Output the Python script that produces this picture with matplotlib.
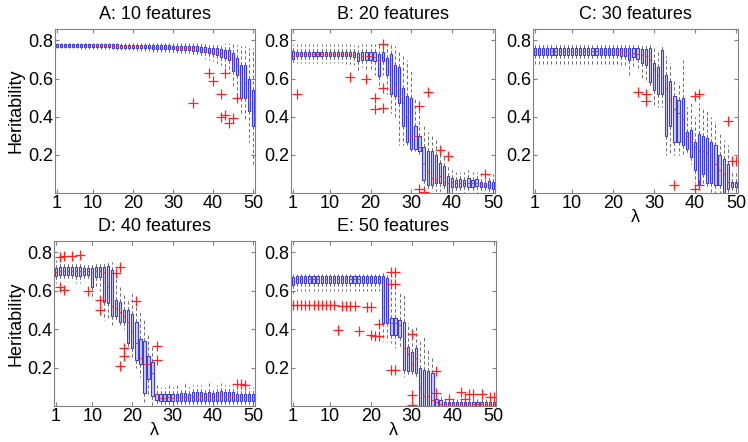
import matplotlib
matplotlib.use('Agg')
import matplotlib.pyplot as plt

plt.rcParams['font.family'] = ['Liberation Sans', 'DejaVu Sans']
plt.rcParams['font.size'] = 13

lambdas = list(range(1, 51))
xtick_vals = [1, 10, 20, 30, 40, 50]
ytick_vals = [0.2, 0.4, 0.6, 0.8]
titles = ['A: 10 features', 'B: 20 features', 'C: 30 features',
          'D: 40 features', 'E: 50 features']

# ---- A: 10 features ----
a_med = [0.776, 0.776, 0.775, 0.775, 0.775, 0.775, 0.774, 0.774, 0.774, 0.773,
         0.773, 0.773, 0.772, 0.772, 0.772, 0.771, 0.771, 0.770, 0.770, 0.770,
         0.769, 0.769, 0.768, 0.768, 0.767, 0.767, 0.766, 0.766, 0.765, 0.764,
         0.763, 0.762, 0.761, 0.760, 0.759, 0.757, 0.754, 0.750, 0.746, 0.742,
         0.738, 0.733, 0.727, 0.720, 0.700, 0.670, 0.625, 0.575, 0.500, 0.420]
a_q1 = [0.768, 0.768, 0.767, 0.767, 0.767, 0.767, 0.766, 0.766, 0.766, 0.765,
        0.765, 0.765, 0.764, 0.764, 0.763, 0.763, 0.762, 0.762, 0.761, 0.761,
        0.760, 0.760, 0.759, 0.758, 0.757, 0.757, 0.756, 0.755, 0.754, 0.753,
        0.752, 0.751, 0.749, 0.748, 0.746, 0.745, 0.742, 0.738, 0.733, 0.728,
        0.722, 0.715, 0.708, 0.700, 0.640, 0.620, 0.500, 0.500, 0.430, 0.350]
a_q3 = [0.783, 0.783, 0.782, 0.782, 0.782, 0.782, 0.781, 0.781, 0.781, 0.780,
        0.780, 0.780, 0.780, 0.779, 0.779, 0.779, 0.778, 0.778, 0.778, 0.777,
        0.777, 0.777, 0.776, 0.776, 0.776, 0.775, 0.775, 0.774, 0.774, 0.773,
        0.773, 0.772, 0.772, 0.771, 0.771, 0.770, 0.768, 0.765, 0.762, 0.760,
        0.758, 0.755, 0.752, 0.750, 0.735, 0.710, 0.670, 0.670, 0.600, 0.540]
a_lo = [0.760, 0.760, 0.759, 0.759, 0.758, 0.758, 0.757, 0.757, 0.756, 0.756,
        0.755, 0.755, 0.754, 0.754, 0.753, 0.752, 0.751, 0.750, 0.749, 0.748,
        0.747, 0.746, 0.745, 0.744, 0.742, 0.741, 0.740, 0.738, 0.736, 0.734,
        0.732, 0.730, 0.727, 0.724, 0.720, 0.716, 0.712, 0.705, 0.698, 0.690,
        0.680, 0.670, 0.660, 0.630, 0.550, 0.500, 0.420, 0.380, 0.270, 0.150]
a_hi = [0.789, 0.789, 0.789, 0.789, 0.789, 0.789, 0.788, 0.788, 0.788, 0.788,
        0.788, 0.788, 0.788, 0.788, 0.787, 0.787, 0.787, 0.787, 0.787, 0.787,
        0.787, 0.787, 0.786, 0.786, 0.786, 0.786, 0.786, 0.786, 0.786, 0.786,
        0.786, 0.786, 0.786, 0.786, 0.786, 0.786, 0.786, 0.786, 0.785, 0.785,
        0.785, 0.785, 0.785, 0.785, 0.780, 0.775, 0.770, 0.770, 0.760, 0.760]
a_out_x = [35, 39, 40, 42, 42, 43, 43, 44, 45, 46]
a_out_y = [0.47, 0.63, 0.59, 0.52, 0.40, 0.63, 0.41, 0.365, 0.395, 0.50]

# ---- B: 20 features ----
b_med = [0.720, 0.730, 0.730, 0.730, 0.730, 0.730, 0.730, 0.730, 0.730, 0.730,
         0.730, 0.730, 0.730, 0.728, 0.728, 0.725, 0.715, 0.720, 0.718, 0.720,
         0.715, 0.700, 0.715, 0.690, 0.665, 0.560, 0.510, 0.470, 0.400, 0.300,
         0.300, 0.240, 0.160, 0.110, 0.080, 0.070, 0.090, 0.060, 0.050, 0.060,
         0.050, 0.050, 0.050, 0.055, 0.050, 0.055, 0.045, 0.040, 0.040, 0.040]
b_q1 = [0.705, 0.718, 0.718, 0.718, 0.718, 0.718, 0.718, 0.718, 0.718, 0.718,
        0.718, 0.718, 0.718, 0.716, 0.716, 0.712, 0.690, 0.700, 0.698, 0.698,
        0.690, 0.615, 0.690, 0.620, 0.520, 0.510, 0.470, 0.350, 0.270, 0.230,
        0.230, 0.220, 0.070, 0.040, 0.040, 0.050, 0.050, 0.040, 0.000, 0.030,
        0.030, 0.030, 0.035, 0.030, 0.030, 0.035, 0.030, 0.030, 0.025, 0.020]
b_q3 = [0.745, 0.742, 0.742, 0.742, 0.742, 0.742, 0.742, 0.742, 0.742, 0.742,
        0.742, 0.742, 0.742, 0.740, 0.740, 0.738, 0.735, 0.738, 0.740, 0.742,
        0.742, 0.730, 0.740, 0.710, 0.730, 0.670, 0.660, 0.550, 0.510, 0.500,
        0.350, 0.300, 0.240, 0.220, 0.220, 0.200, 0.160, 0.140, 0.090, 0.080,
        0.070, 0.075, 0.070, 0.080, 0.070, 0.075, 0.060, 0.055, 0.065, 0.060]
b_lo = [0.675, 0.680, 0.680, 0.680, 0.680, 0.680, 0.680, 0.680, 0.680, 0.680,
        0.680, 0.680, 0.680, 0.675, 0.675, 0.670, 0.640, 0.660, 0.650, 0.650,
        0.620, 0.550, 0.620, 0.520, 0.420, 0.400, 0.250, 0.250, 0.250, 0.220,
        0.220, 0.200, 0.020, 0.010, 0.010, 0.010, 0.010, 0.010, 0.000, 0.000,
        0.000, 0.000, 0.000, 0.000, 0.000, 0.000, 0.010, 0.010, 0.000, 0.000]
b_hi = [0.780, 0.780, 0.780, 0.780, 0.780, 0.780, 0.780, 0.780, 0.780, 0.780,
        0.780, 0.780, 0.780, 0.780, 0.780, 0.778, 0.775, 0.780, 0.780, 0.780,
        0.780, 0.780, 0.780, 0.780, 0.780, 0.770, 0.750, 0.720, 0.700, 0.640,
        0.500, 0.430, 0.350, 0.320, 0.300, 0.280, 0.220, 0.200, 0.140, 0.120,
        0.110, 0.110, 0.110, 0.120, 0.110, 0.110, 0.110, 0.090, 0.100, 0.100]
b_out_x = [2, 15, 19, 21, 21, 23, 23, 23, 32, 34, 37, 39, 32, 33, 48]
b_out_y = [0.52, 0.61, 0.60, 0.50, 0.44, 0.78, 0.55, 0.445, 0.457, 0.53,
           0.225, 0.195, 0.02, 0.005, 0.10]

# ---- C: 30 features ----
c_med = [0.745, 0.745, 0.745, 0.745, 0.745, 0.745, 0.745, 0.745, 0.745, 0.745,
         0.745, 0.745, 0.745, 0.745, 0.745, 0.745, 0.745, 0.745, 0.744, 0.743,
         0.742, 0.741, 0.740, 0.735, 0.735, 0.730, 0.725, 0.720, 0.700, 0.650,
         0.620, 0.610, 0.550, 0.490, 0.440, 0.420, 0.390, 0.300, 0.270, 0.240,
         0.220, 0.220, 0.210, 0.200, 0.150, 0.120, 0.100, 0.060, 0.050, 0.050]
c_q1 = [0.725, 0.725, 0.725, 0.725, 0.725, 0.725, 0.725, 0.725, 0.725, 0.725,
        0.725, 0.725, 0.725, 0.725, 0.725, 0.725, 0.725, 0.725, 0.724, 0.723,
        0.722, 0.720, 0.718, 0.700, 0.715, 0.705, 0.680, 0.670, 0.580, 0.540,
        0.520, 0.520, 0.300, 0.350, 0.270, 0.270, 0.250, 0.230, 0.190, 0.120,
        0.040, 0.100, 0.050, 0.050, 0.040, 0.040, 0.000, 0.020, 0.030, 0.030]
c_q3 = [0.763, 0.763, 0.763, 0.763, 0.763, 0.763, 0.763, 0.763, 0.763, 0.763,
        0.763, 0.763, 0.763, 0.763, 0.763, 0.763, 0.763, 0.763, 0.762, 0.762,
        0.761, 0.760, 0.760, 0.760, 0.760, 0.758, 0.755, 0.755, 0.760, 0.680,
        0.660, 0.750, 0.620, 0.590, 0.510, 0.490, 0.500, 0.320, 0.330, 0.270,
        0.310, 0.300, 0.290, 0.270, 0.250, 0.200, 0.180, 0.150, 0.060, 0.060]
c_lo = [0.675, 0.675, 0.675, 0.675, 0.675, 0.675, 0.675, 0.675, 0.675, 0.675,
        0.675, 0.675, 0.675, 0.675, 0.675, 0.675, 0.675, 0.675, 0.672, 0.670,
        0.668, 0.665, 0.660, 0.620, 0.660, 0.640, 0.600, 0.580, 0.550, 0.450,
        0.450, 0.450, 0.200, 0.200, 0.200, 0.200, 0.200, 0.200, 0.150, 0.050,
        0.020, 0.040, 0.020, 0.000, 0.000, 0.000, 0.000, 0.000, 0.000, 0.000]
c_hi = [0.782, 0.782, 0.782, 0.782, 0.782, 0.782, 0.782, 0.782, 0.782, 0.782,
        0.782, 0.782, 0.782, 0.782, 0.782, 0.782, 0.782, 0.782, 0.782, 0.782,
        0.782, 0.782, 0.782, 0.782, 0.782, 0.782, 0.782, 0.782, 0.780, 0.760,
        0.750, 0.780, 0.720, 0.680, 0.600, 0.580, 0.700, 0.450, 0.470, 0.400,
        0.470, 0.450, 0.440, 0.400, 0.380, 0.320, 0.280, 0.250, 0.120, 0.120]
c_out_x = [26, 28, 28, 35, 40, 41, 40, 41, 48, 49, 50]
c_out_y = [0.53, 0.52, 0.48, 0.04, 0.51, 0.52, 0.02, 0.04, 0.38, 0.17, 0.17]

# ---- D: 40 features ----
d_med = [0.700, 0.705, 0.705, 0.705, 0.705, 0.705, 0.705, 0.705, 0.705, 0.695,
         0.705, 0.705, 0.700, 0.620, 0.520, 0.510, 0.490, 0.470, 0.440, 0.390,
         0.330, 0.250, 0.220, 0.220, 0.170, 0.060, 0.040, 0.040, 0.045, 0.040,
         0.045, 0.040, 0.045, 0.040, 0.045, 0.050, 0.050, 0.045, 0.050, 0.045,
         0.050, 0.050, 0.045, 0.050, 0.050, 0.045, 0.045, 0.045, 0.045, 0.045]
d_q1 = [0.675, 0.685, 0.685, 0.685, 0.685, 0.680, 0.680, 0.685, 0.685, 0.620,
        0.670, 0.670, 0.540, 0.535, 0.470, 0.470, 0.440, 0.440, 0.330, 0.300,
        0.240, 0.220, 0.070, 0.140, 0.050, 0.030, 0.025, 0.025, 0.025, 0.025,
        0.025, 0.025, 0.025, 0.025, 0.025, 0.025, 0.025, 0.025, 0.025, 0.025,
        0.025, 0.025, 0.025, 0.025, 0.025, 0.025, 0.025, 0.025, 0.025, 0.025]
d_q3 = [0.720, 0.722, 0.722, 0.722, 0.722, 0.722, 0.722, 0.720, 0.720, 0.720,
        0.725, 0.725, 0.725, 0.730, 0.710, 0.550, 0.540, 0.500, 0.500, 0.480,
        0.440, 0.350, 0.340, 0.260, 0.230, 0.060, 0.060, 0.065, 0.065, 0.060,
        0.065, 0.070, 0.070, 0.065, 0.075, 0.075, 0.075, 0.070, 0.075, 0.070,
        0.075, 0.080, 0.075, 0.075, 0.075, 0.065, 0.065, 0.065, 0.065, 0.065]
d_lo = [0.640, 0.650, 0.650, 0.650, 0.650, 0.640, 0.640, 0.650, 0.650, 0.560,
        0.620, 0.600, 0.450, 0.450, 0.420, 0.450, 0.420, 0.400, 0.300, 0.250,
        0.200, 0.150, 0.020, 0.050, 0.000, 0.000, 0.000, 0.000, 0.000, 0.000,
        0.000, 0.000, 0.000, 0.000, 0.000, 0.000, 0.000, 0.000, 0.000, 0.000,
        0.000, 0.000, 0.000, 0.000, 0.000, 0.000, 0.000, 0.000, 0.000, 0.000]
d_hi = [0.760, 0.750, 0.750, 0.750, 0.750, 0.750, 0.750, 0.750, 0.750, 0.750,
        0.750, 0.750, 0.750, 0.750, 0.750, 0.680, 0.620, 0.580, 0.560, 0.600,
        0.550, 0.500, 0.450, 0.380, 0.320, 0.120, 0.100, 0.100, 0.110, 0.100,
        0.110, 0.100, 0.130, 0.100, 0.110, 0.110, 0.110, 0.100, 0.120, 0.100,
        0.110, 0.120, 0.110, 0.110, 0.110, 0.100, 0.100, 0.100, 0.100, 0.100]
d_out_x = [2, 3, 5, 7, 2, 3, 9, 12, 12, 16, 17, 21, 17, 18, 18, 26, 26, 46, 47, 48]
d_out_y = [0.775, 0.78, 0.78, 0.785, 0.62, 0.605, 0.60, 0.55, 0.50, 0.695,
           0.725, 0.545, 0.21, 0.30, 0.26, 0.315, 0.24, 0.115, 0.115, 0.11]

# ---- E: 50 features ----
e_med = [0.650, 0.660, 0.660, 0.660, 0.660, 0.660, 0.660, 0.660, 0.660, 0.660,
         0.660, 0.660, 0.660, 0.660, 0.660, 0.660, 0.660, 0.660, 0.660, 0.660,
         0.660, 0.660, 0.660, 0.540, 0.430, 0.430, 0.420, 0.300, 0.270, 0.220,
         0.250, 0.100, 0.050, 0.050, 0.030, 0.020, 0.010, 0.010, 0.008, 0.008,
         0.008, 0.008, 0.008, 0.008, 0.008, 0.008, 0.008, 0.008, 0.008, 0.008]
e_q1 = [0.630, 0.642, 0.642, 0.642, 0.642, 0.642, 0.642, 0.642, 0.642, 0.642,
        0.642, 0.642, 0.642, 0.642, 0.642, 0.642, 0.642, 0.642, 0.642, 0.642,
        0.642, 0.642, 0.430, 0.430, 0.370, 0.370, 0.360, 0.190, 0.180, 0.180,
        0.170, 0.000, 0.000, 0.000, 0.000, 0.000, 0.000, 0.000, 0.002, 0.002,
        0.002, 0.002, 0.002, 0.002, 0.002, 0.002, 0.002, 0.002, 0.002, 0.002]
e_q3 = [0.670, 0.675, 0.675, 0.675, 0.675, 0.675, 0.675, 0.675, 0.675, 0.675,
        0.675, 0.675, 0.675, 0.675, 0.675, 0.675, 0.675, 0.675, 0.675, 0.675,
        0.675, 0.675, 0.675, 0.665, 0.460, 0.460, 0.450, 0.440, 0.310, 0.280,
        0.300, 0.200, 0.190, 0.180, 0.170, 0.035, 0.030, 0.020, 0.020, 0.020,
        0.020, 0.020, 0.020, 0.020, 0.020, 0.020, 0.020, 0.020, 0.020, 0.020]
e_lo = [0.590, 0.600, 0.600, 0.600, 0.600, 0.600, 0.600, 0.600, 0.600, 0.600,
        0.600, 0.600, 0.600, 0.600, 0.600, 0.600, 0.600, 0.600, 0.600, 0.600,
        0.600, 0.600, 0.340, 0.340, 0.330, 0.300, 0.300, 0.150, 0.150, 0.150,
        0.140, 0.000, 0.000, 0.000, 0.000, 0.000, 0.000, 0.000, 0.000, 0.000,
        0.000, 0.000, 0.000, 0.000, 0.000, 0.000, 0.000, 0.000, 0.000, 0.000]
e_hi = [0.690, 0.690, 0.690, 0.690, 0.690, 0.690, 0.690, 0.690, 0.690, 0.690,
        0.690, 0.690, 0.690, 0.690, 0.690, 0.690, 0.690, 0.690, 0.690, 0.690,
        0.690, 0.690, 0.700, 0.700, 0.620, 0.700, 0.600, 0.580, 0.430, 0.350,
        0.420, 0.350, 0.370, 0.300, 0.250, 0.080, 0.060, 0.050, 0.035, 0.035,
        0.035, 0.035, 0.035, 0.035, 0.035, 0.035, 0.035, 0.035, 0.035, 0.035]
e_out_x = [1, 2, 3, 4, 5, 6, 7, 8, 9, 10, 11, 13, 14, 15, 16, 19, 20,
           12, 17, 20, 21, 22, 22, 25, 26, 25, 26, 25, 26, 30, 30, 30,
           36, 36, 39, 42, 43, 44, 45, 47, 49, 50]
e_out_y = [0.525, 0.525, 0.525, 0.525, 0.525, 0.525, 0.525, 0.525, 0.525, 0.525,
           0.525, 0.52, 0.52, 0.52, 0.52, 0.515, 0.515,
           0.395, 0.39, 0.37, 0.365, 0.365, 0.425, 0.70, 0.70, 0.635, 0.635,
           0.185, 0.185, 0.375, 0.055, 0.005,
           0.18, 0.07, 0.035, 0.075, 0.035, 0.065, 0.065, 0.06, 0.045, 0.045]

panels = [
    (a_med, a_q1, a_q3, a_lo, a_hi, a_out_x, a_out_y),
    (b_med, b_q1, b_q3, b_lo, b_hi, b_out_x, b_out_y),
    (c_med, c_q1, c_q3, c_lo, c_hi, c_out_x, c_out_y),
    (d_med, d_q1, d_q3, d_lo, d_hi, d_out_x, d_out_y),
    (e_med, e_q1, e_q3, e_lo, e_hi, e_out_x, e_out_y),
]

# axes rectangles in figure fraction (748 x 442 px)
rects = [
    [0.0735, 0.5633, 0.2674, 0.371],
    [0.389, 0.5633, 0.2727, 0.371],
    [0.7126, 0.5633, 0.274, 0.371],
    [0.0722, 0.0815, 0.2687, 0.3733],
    [0.389, 0.0815, 0.274, 0.3733],
]

fig = plt.figure(figsize=(7.48, 4.42), dpi=100)

for i, (med, q1, q3, lo, hi, ox, oy) in enumerate(panels):
    ax = fig.add_axes(rects[i])
    stats = [dict(med=m, q1=a, q3=b, whislo=l, whishi=h, fliers=[])
             for m, a, b, l, h in zip(med, q1, q3, lo, hi)]
    ax.bxp(stats, positions=lambdas, widths=0.55, patch_artist=True,
           showfliers=False, showcaps=False,
           boxprops=dict(facecolor='#d2d2f7', edgecolor='#3a3ae6', linewidth=0.8),
           whiskerprops=dict(color='#555555', linestyle=(0, (4, 3)), linewidth=0.6),
           medianprops=dict(color='#ff3030', linewidth=0.8))
    ax.plot(ox, oy, '+', color='#ff2020', ms=7, mew=0.9)
    ax.set_xlim(0.5, 50.5)
    ax.set_ylim(0, 0.86)
    ax.set_xticks(xtick_vals)
    ax.set_xticklabels([str(v) for v in xtick_vals])
    ax.set_yticks(ytick_vals)
    ax.set_yticklabels(['%.1f' % v for v in ytick_vals])
    ax.tick_params(direction='in', top=True, right=True, length=3,
                   color='#808080', labelsize=13, pad=1.5)
    for sp in ax.spines.values():
        sp.set_color('#808080')
    ax.set_title(titles[i], fontsize=13, pad=7)
    if i in (0, 3):
        ax.set_ylabel('Heritability', fontsize=13, labelpad=2)
    if i in (2, 3, 4):
        ax.set_xlabel('λ', fontsize=13, labelpad=-2)

fig.savefig('out.png', dpi=100)
